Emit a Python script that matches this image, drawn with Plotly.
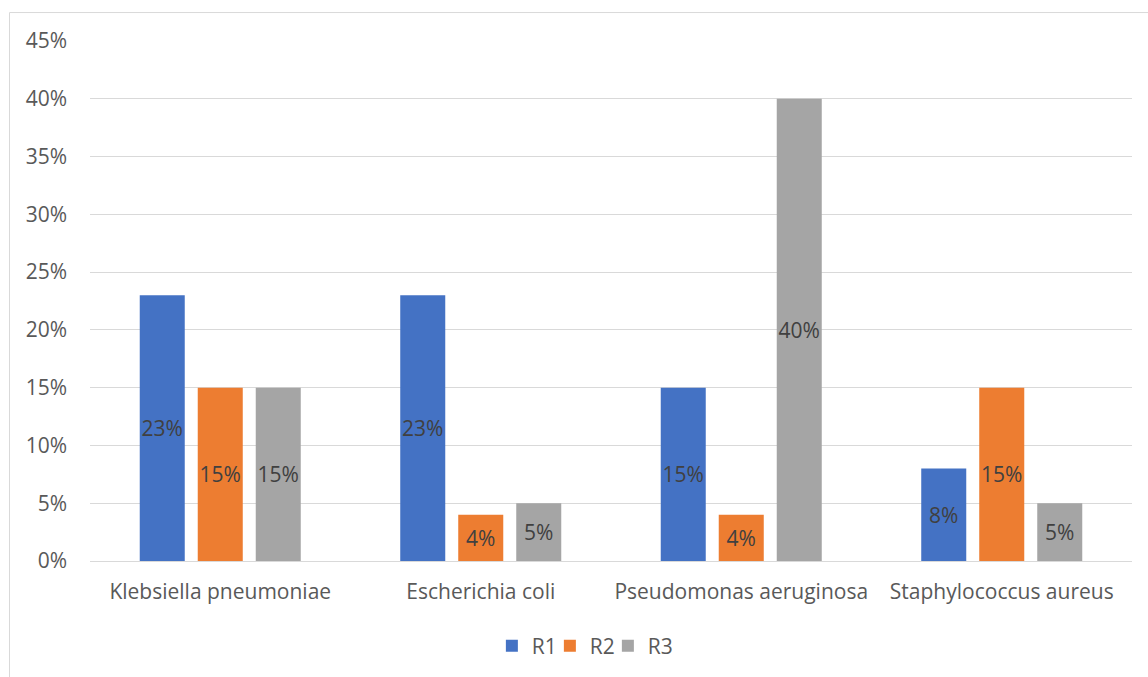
import plotly.graph_objects as go

categories = ["Klebsiella pneumoniae", "Escherichia coli", "Pseudomonas aeruginosa", "Staphylococcus aureus"]
series_names = ["R1", "R2", "R3"]
r1 = [0.23, 0.23, 0.15, 0.08]
r2 = [0.15, 0.04, 0.04, 0.15]
r3 = [0.15, 0.05, 0.40, 0.05]
colors = ["#4472C4", "#ED7D31", "#A5A5A5"]

FONT = "Open Sans"
FS = 21
fig = go.Figure()
for name, vals, col in zip(series_names, [r1, r2, r3], colors):
    fig.add_trace(go.Bar(
        x=categories, y=vals, name=name,
        marker=dict(color=col, line=dict(width=0)),
        texttemplate="%{y:.0%}", textposition="inside",
        insidetextanchor="middle", textangle=0, constraintext="none",
        textfont=dict(family=FONT, size=FS, color="#404040"),
    ))
# invisible spacer entry so the last legend label is not clipped
fig.add_trace(go.Scatter(x=[None], y=[None], mode="markers", name=" ",
                         marker=dict(color="rgba(0,0,0,0)"), hoverinfo="skip"))

W, H = 1148, 677
L, R, T, B = 90, 16, 41, 115
pw, ph = W - L - R, H - T - B

def px_x(x):
    return (x - L) / pw

def px_y(y):
    return (H - B - y) / ph

fig.update_layout(
    width=W, height=H,
    margin=dict(l=L, r=R, t=T, b=B),
    paper_bgcolor="white", plot_bgcolor="white",
    barmode="group", bargap=0.332, bargroupgap=0.224,
    font=dict(family=FONT, size=FS, color="#595959"),
    showlegend=True,
    legend=dict(orientation="h", x=0.497, xanchor="center", y=px_y(646), yanchor="middle",
                font=dict(family=FONT, size=FS, color="#595959"), itemwidth=30,
                entrywidth=13, entrywidthmode="pixels",
                traceorder="normal"),
    xaxis=dict(showgrid=False, showline=True, linecolor="#d9d9d9", linewidth=1,
               ticks="", ticklabelstandoff=12, tickfont=dict(size=FS, color="#595959")),
    yaxis=dict(range=[0, 0.45], dtick=0.05, tickformat=".0%", showgrid=True,
               gridcolor="#d9d9d9", gridwidth=1, zeroline=False, showline=False,
               ticks="", ticklabelstandoff=22, tickfont=dict(size=FS, color="#595959")),
    shapes=[dict(type="rect", xref="paper", yref="paper",
                 x0=px_x(9.5), x1=px_x(1160), y0=px_y(700), y1=px_y(12.5),
                 line=dict(color="#d9d9d9", width=1), fillcolor="rgba(0,0,0,0)", layer="below")],
)

fig.write_html("out.html")
